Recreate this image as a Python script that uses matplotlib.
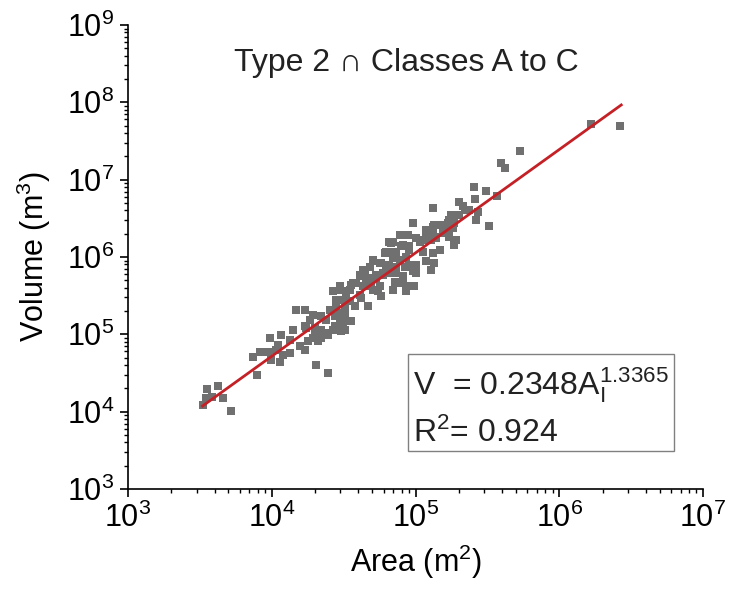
import matplotlib

matplotlib.use("Agg")
import matplotlib.pyplot as plt
import numpy as np
from matplotlib.patches import Rectangle

# log10 of area (m^2) and volume (m^3)
log_area = [
    3.523, 3.547, 3.627, 3.581, 3.658, 3.542, 3.715, 3.986, 4.067, 3.870,
    3.917, 3.974, 3.998, 4.056, 4.028, 4.078, 4.125, 4.044, 4.125, 4.148,
    4.194, 4.229, 4.252, 4.241, 4.299, 4.345, 4.322, 4.310, 4.391, 4.391,
    4.438, 4.484, 4.495, 3.894,
    4.981, 5.132, 5.224, 5.259, 5.190, 5.074, 5.005, 4.935, 4.889, 4.831,
    4.912, 4.865, 4.958, 5.028, 5.109, 5.144, 5.236, 5.271, 5.167, 5.120,
    5.051, 5.074, 5.132, 5.005, 5.109, 4.981, 4.924, 4.854, 4.796, 4.762,
    4.819, 4.703, 4.646, 4.669, 4.611, 4.727, 4.773, 4.865, 4.912, 4.854,
    4.889, 4.958, 4.842, 4.750, 4.703, 4.634, 4.588, 4.553, 4.519, 4.472,
    4.449, 4.542, 4.623, 4.669, 4.576, 4.507, 4.472, 4.403, 4.438, 4.380,
    4.345, 4.287, 4.264, 4.229, 4.171, 4.229, 4.299, 4.345, 4.426, 4.495,
    4.553, 4.762, 4.611,
    6.224, 6.421, 5.729, 5.595, 5.625, 5.410, 5.491, 5.417, 5.565, 5.514,
    5.306, 5.333, 5.347, 5.433, 5.125, 5.248, 5.236, 5.201, 4.947, 5.051,
    5.120, 5.282, 4.819, 4.785,
    4.287, 4.380, 4.472, 4.507, 4.495, 4.519, 4.449, 4.472, 4.507,
    4.426, 4.472, 4.542, 4.565, 4.611, 4.634, 4.681, 4.703, 4.750, 4.796,
    4.773, 4.727, 4.658, 4.692, 4.738, 4.819, 4.865, 4.889, 4.935, 4.842,
    4.831, 4.796, 4.958, 4.901, 4.842, 4.958, 5.005, 4.912, 4.993, 4.935,
    5.120, 5.167, 5.190, 5.236, 5.271, 5.306, 5.375, 5.421, 5.074, 5.144,
]
log_volume = [
    4.090, 4.293, 4.336, 4.190, 4.177, 4.177, 4.004, 4.952, 4.995, 4.707,
    4.766, 4.771, 4.672, 4.637, 4.801, 4.736, 4.758, 4.866, 4.930, 5.059,
    4.844, 4.801, 4.908, 5.081, 5.059, 4.952, 4.908, 4.607, 4.500, 4.995,
    5.102, 5.037, 5.167, 4.478,
    6.438, 6.416, 6.438, 6.373, 6.309, 6.351, 6.244, 6.287, 6.287, 6.180,
    6.158, 6.071, 6.093, 6.200, 6.222, 6.265, 6.265, 6.158, 6.093, 6.050,
    6.071, 5.942, 5.921, 5.899, 5.835, 5.813, 5.877, 5.986, 6.071, 5.921,
    5.899, 5.942, 5.835, 5.727, 5.770, 5.770, 5.792, 5.792, 5.748, 5.683,
    5.663, 5.619, 5.576, 5.619, 5.576, 5.619, 5.663, 5.641, 5.554, 5.576,
    5.447, 5.425, 5.469, 5.360, 5.360, 5.360, 5.275, 5.318, 5.231, 5.189,
    5.231, 5.253, 5.189, 5.318, 5.318, 5.102, 5.081, 5.059, 5.059, 5.146,
    5.167, 5.490, 5.512,
    7.721, 7.695, 7.372, 7.213, 7.149, 6.911, 6.859, 6.748, 6.791, 6.403,
    6.717, 6.661, 6.610, 6.588, 6.632, 6.545, 6.481, 6.373, 6.287, 6.222,
    6.287, 6.222, 6.200, 6.050,
    4.952, 5.017, 5.189, 5.275, 5.447, 5.533, 5.360, 5.059, 5.059,
    5.554, 5.619, 5.576, 5.663, 5.748, 5.835, 5.877, 5.964, 5.921, 5.877,
    5.770, 5.727, 5.705, 5.619, 5.554, 5.792, 5.877, 5.964, 6.006, 5.986,
    6.071, 6.050, 6.136, 6.136, 6.200, 5.899, 5.792, 5.663, 5.619, 5.554,
    6.394, 6.416, 6.330, 6.351, 6.438, 6.545, 6.610, 6.481, 6.244, 6.244,
]

# power-law fit V = a * A^b shown in the chart
fit_coef = 0.2348
fit_exp = 1.3365
fit_area = [3.3e3, 2.7e6]

GRAY = "#707070"
RED = "#c42127"

plt.rcParams.update(
    {
        "font.family": "Liberation Sans",
        "mathtext.default": "regular",
        "mathtext.fontset": "custom",
        "mathtext.rm": "Liberation Sans",
    }
)

area = 10 ** np.array(log_area)
volume = 10 ** np.array(log_volume)
fit_x = np.array(fit_area)
fit_y = fit_coef * fit_x ** fit_exp

fig = plt.figure(figsize=(7.29, 5.90), dpi=100)
ax = fig.add_axes([128 / 729, 1 - 489 / 590, 575 / 729, 464 / 590])

ax.scatter(area, volume, marker="s", s=26, color=GRAY, linewidths=0, zorder=2)
ax.plot(fit_x, fit_y, color=RED, linewidth=2.0, zorder=3)

ax.set_xscale("log")
ax.set_yscale("log")
ax.set_xlim(1e3, 1e7)
ax.set_ylim(1e3, 1e9)
ax.set_xticks([1e3, 1e4, 1e5, 1e6, 1e7])
ax.set_yticks([1e3, 1e4, 1e5, 1e6, 1e7, 1e8, 1e9])

ax.spines["top"].set_visible(False)
ax.spines["right"].set_visible(False)
for side in ("left", "bottom"):
    ax.spines[side].set_linewidth(1.2)
ax.tick_params(which="major", direction="out", length=6, width=1.2, labelsize=22, pad=4)
ax.tick_params(which="minor", direction="out", length=3, width=1.0)

ax.set_xlabel("Area (m$^2$)", fontsize=22, labelpad=6)
ax.set_ylabel("Volume (m$^3$)", fontsize=22, labelpad=10)

ax.text(0.485, 0.918, "Type 2 \u2229 Classes A to C", transform=ax.transAxes,
        ha="center", va="center", fontsize=23, color="#222222")

ax.add_patch(Rectangle((0.487, 0.082), 0.463, 0.209, transform=ax.transAxes,
                       fill=False, edgecolor="#808080", linewidth=1.0, zorder=4))
ax.text(0.496, 0.203, "V  = 0.2348A$_{I}^{1.3365}$", transform=ax.transAxes,
        ha="left", va="baseline", fontsize=23, color="#222222")
ax.text(0.496, 0.101, "R$^{2}$= 0.924", transform=ax.transAxes,
        ha="left", va="baseline", fontsize=23, color="#222222")

fig.savefig("out.png", dpi=100, facecolor="white")
